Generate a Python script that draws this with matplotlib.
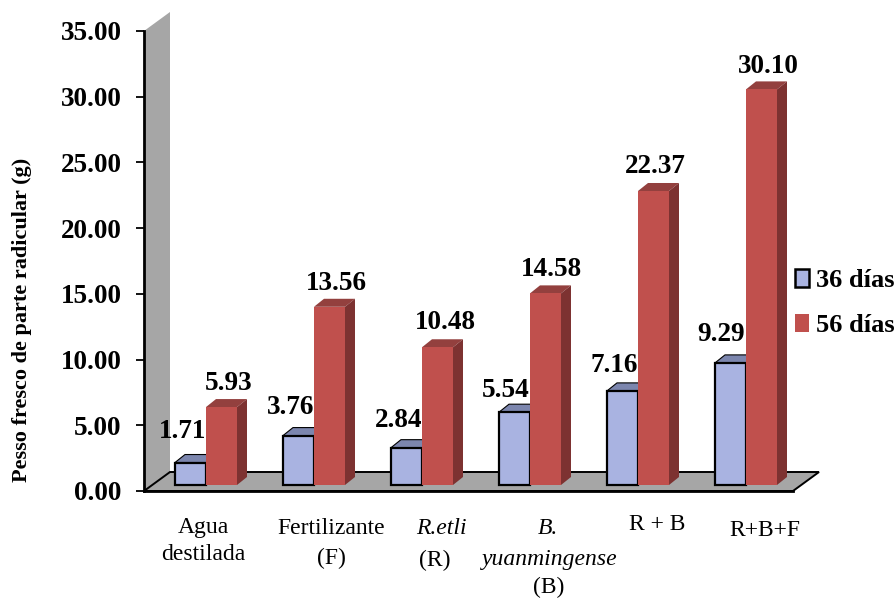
import matplotlib
matplotlib.use("Agg")
import numpy as np
import matplotlib.pyplot as plt
from matplotlib.patches import Polygon, Patch

plt.rcParams['font.family'] = ['Liberation Serif', 'DejaVu Serif']

# data
series_names = ["36 días", "56 días"]
values_36 = [1.71, 3.76, 2.84, 5.54, 7.16, 9.29]
values_56 = [5.93, 13.56, 10.48, 14.58, 22.37, 30.10]
y_ticks = [0, 5, 10, 15, 20, 25, 30, 35]
y_title = "Pesso fresco de parte radicular (g)"

# colours
BLUE, BLUE_TOP = "#a9b3e1", "#7c86ae"
RED, RED_TOP, RED_SIDE = "#c0504d", "#93403e", "#7d3231"
GREY = "#a6a6a6"

W, H = 896, 599
AX_L, AX_R, AX_T, AX_B = 144, 793, 31, 491
CAT_PX = 108.0
UNIT_PX = (AX_B - AX_T) / 35.0

fig = plt.figure(figsize=(W / 100, H / 100), dpi=100)
ax = fig.add_axes([AX_L / W, 1 - AX_B / H, (AX_R - AX_L) / W, (AX_B - AX_T) / H])
ax.set_xlim(0, (AX_R - AX_L) / CAT_PX)
ax.set_ylim(0, 35)

# depth of the fake 3d, in data units
wall_dx, wall_dy = 26 / CAT_PX, 19 / UNIT_PX
bar_dx, bar_dy = 10 / CAT_PX, 8 / UNIT_PX
base = 6 / UNIT_PX
bar_w = 31 / CAT_PX
xmax = ax.get_xlim()[1]

ax.add_patch(Polygon([(0, 0), (wall_dx, wall_dy), (wall_dx, 35 + wall_dy), (0, 35)],
                     fc=GREY, ec="none", clip_on=False, zorder=1))
ax.add_patch(Polygon([(0, 0), (wall_dx, wall_dy), (xmax + wall_dx, wall_dy), (xmax, 0)],
                     fc=GREY, ec="black", lw=1.4, clip_on=False, zorder=1))


def draw_bars(xs, vals, face, top, side, edge, lw, z):
    ax.bar(xs, vals, bar_w, bottom=base, color=face, edgecolor=edge, linewidth=lw,
           zorder=z + 1, clip_on=False)
    for x, v in zip(xs, vals):
        l, r, t = x - bar_w / 2, x + bar_w / 2, base + v
        ax.add_patch(Polygon([(l, t), (l + bar_dx, t + bar_dy), (r + bar_dx, t + bar_dy), (r, t)],
                             fc=top, ec=edge, lw=lw * 0.5, clip_on=False, zorder=z))
        ax.add_patch(Polygon([(r, base), (r + bar_dx, base + bar_dy), (r + bar_dx, t + bar_dy), (r, t)],
                             fc=side, ec="none", clip_on=False, zorder=z))


centers = np.arange(len(values_36)) + 62 / CAT_PX
draw_bars(centers - bar_w / 2, values_36, BLUE, BLUE_TOP, BLUE_TOP, "black", 1.6, 3)
draw_bars(centers + bar_w / 2, values_56, RED, RED_TOP, RED_SIDE, "none", 0, 5)

# value labels, pixel nudges from the bar top
nudge_36 = [(-8, 31), (-8, 28), (-8, 27), (-9, 22), (-8, 25), (-9, 28)]
nudge_56 = [(7, 24), (7, 23), (8, 25), (6, 24), (2, 24), (7, 23)]
for xs, vals, nudges in ((centers - bar_w / 2, values_36, nudge_36),
                         (centers + bar_w / 2, values_56, nudge_56)):
    for x, v, (nx, ny) in zip(xs, vals, nudges):
        ax.annotate(f"{v:.2f}", (x, base + v), xytext=(nx * 0.72, ny * 0.72),
                    textcoords="offset points", ha="center", va="center",
                    fontsize=19.5, fontweight="bold", zorder=10, annotation_clip=False)

ax.set_xticks([])
ax.set_yticks(y_ticks)
ax.set_yticklabels([f"{t:.2f}" for t in y_ticks], fontsize=19.5, fontweight="bold")
ax.tick_params(axis="y", length=6, width=1.3, pad=10)
for s in ("top", "right"):
    ax.spines[s].set_visible(False)
ax.spines["left"].set_linewidth(2)
ax.spines["bottom"].set_linewidth(2)
ax.spines["left"].set_zorder(2)
ax.spines["bottom"].set_zorder(2)
ax.patch.set_alpha(0)

fig.text(22 / W, 1 - 320 / H, y_title, rotation=90, ha="center", va="center",
         fontsize=16, fontweight="bold")


def px_text(x, y, s, **kw):
    fig.text(x / W, 1 - y / H, s, ha="center", va="center", fontsize=17, **kw)


px_text(203, 527, "Agua")
px_text(203, 554, "destilada")
px_text(331, 528, "Fertilizante")
px_text(331, 558, "(F)")
px_text(441, 528, "R.etli", style="italic")
px_text(435, 560, "(R)")
px_text(548, 529, "B.", style="italic")
px_text(550, 560, "yuanmingense", style="italic")
px_text(549, 587, "(B)")
px_text(657, 524, "R + B")
px_text(765, 530, "R+B+F")

handles = [Patch(fc=BLUE, ec="black", lw=1.8), Patch(fc=RED, ec="none")]
fig.legend(handles, series_names, loc="center left",
           bbox_to_anchor=(795 / W, 1 - 303 / H), frameon=False,
           prop={'size': 19, 'weight': 'bold'}, handlelength=0.54, handleheight=0.7,
           handletextpad=0.25, labelspacing=0.8, borderpad=0, borderaxespad=0)

fig.savefig("out.png", dpi=100)
